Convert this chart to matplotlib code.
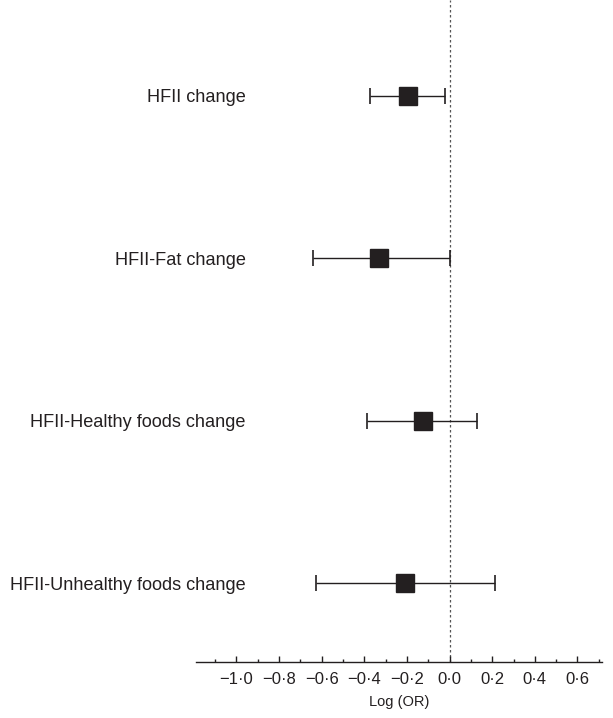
import numpy as np
import matplotlib.pyplot as plt
from matplotlib.ticker import MultipleLocator, FuncFormatter

plt.rcParams['font.family'] = ['Liberation Sans', 'DejaVu Sans']
ink = '#231f20'

# --- estimates: log odds ratio with 95% CI ---
labels = ['HFII change', 'HFII-Fat change', 'HFII-Healthy foods change',
          'HFII-Unhealthy foods change']
log_or = [-0.196, -0.329, -0.127, -0.208]
ci_low = [-0.372, -0.641, -0.386, -0.628]
ci_high = [-0.020, 0.000, 0.130, 0.211]

ypos = np.arange(len(labels))[::-1] + 1.0
err = [np.array(log_or) - np.array(ci_low), np.array(ci_high) - np.array(log_or)]

fig = plt.figure(figsize=(6.13, 7.18), dpi=100)
ax = fig.add_axes([196 / 613, 1 - 662 / 718, (602 - 196) / 613, 662 / 718])

ax.axvline(0, color='#555555', linestyle=(0, (2, 2)), linewidth=0.9, zorder=1)
ax.errorbar(log_or, ypos, xerr=err, fmt='s', color=ink, ecolor=ink,
            elinewidth=1.0, capsize=5.8, capthick=1.2, markersize=13, zorder=3)

for y, lab in zip(ypos, labels):
    ax.text(-0.958, y, lab, ha='right', va='center_baseline', fontsize=13.1,
            color=ink)

ax.set_xlim(-1.19, 0.715)
ax.set_ylim(0.514, 4.59)

for side in ['top', 'right', 'left']:
    ax.spines[side].set_visible(False)
ax.spines['bottom'].set_linewidth(1.0)
ax.spines['bottom'].set_color(ink)
ax.set_yticks([])

ax.xaxis.set_major_locator(MultipleLocator(0.2))
ax.xaxis.set_minor_locator(MultipleLocator(0.1))
ax.xaxis.set_major_formatter(FuncFormatter(
    lambda v, p: f'{v:.1f}'.replace('.', '·').replace('-', '−') if v < 0.65 else ''))
ax.tick_params(axis='x', which='major', direction='in', length=4.3, width=1.0,
               labelsize=12, pad=7, color=ink, labelcolor=ink)
ax.tick_params(axis='x', which='minor', direction='in', length=2.5, width=1.0,
               color=ink)
ax.set_xlabel('Log (OR)', fontsize=10.5, labelpad=6, color=ink)

fig.savefig('out.png', dpi=100)
